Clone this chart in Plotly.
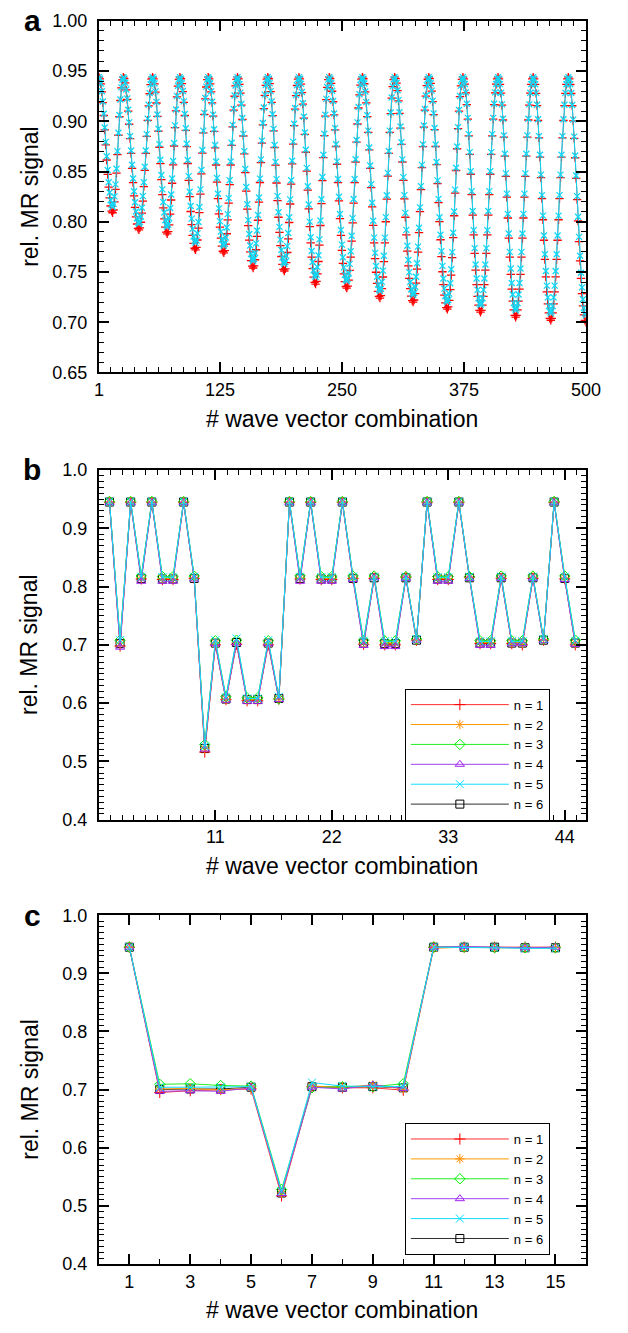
import numpy as np
import plotly.graph_objects as go

W, H = 628, 1333
FONT = "Liberation Sans, Arial, sans-serif"

# ---------------- Panel a (cycle extrema) -------------
a_peak_x = [1, 26, 56, 84, 113, 143, 174, 206, 237, 271, 304, 339, 374, 410, 446, 482]
a_trough_x = [15, 42, 71, 100, 129, 159, 191, 223, 255, 289, 323, 358, 392, 428, 464, 500]
a_peak_y = 0.944
a_trough_n1 = [0.809, 0.792, 0.788, 0.772, 0.769, 0.754, 0.751, 0.738,
               0.734, 0.724, 0.720, 0.713, 0.710, 0.705, 0.702, 0.700]
a_trough_n5 = [0.815, 0.798, 0.795, 0.779, 0.776, 0.761, 0.758, 0.745,
               0.741, 0.731, 0.727, 0.720, 0.717, 0.712, 0.709, 0.707]
a_x = list(range(1, 501))
a_xticks = [1, 125, 250, 375, 500]

# ---------------- Panel b -------------
b_x = list(range(1, 46))
b_n1 = [0.944, 0.698, 0.944, 0.813, 0.944, 0.812, 0.812, 0.944, 0.814, 0.516,
        0.700, 0.606, 0.701, 0.604, 0.604, 0.700, 0.607, 0.944, 0.813, 0.944,
        0.812, 0.812, 0.944, 0.814, 0.701, 0.814, 0.700, 0.700, 0.816, 0.708,
        0.944, 0.812, 0.812, 0.944, 0.816, 0.702, 0.702, 0.814, 0.702, 0.700,
        0.814, 0.708, 0.944, 0.813, 0.700]
b_n2 = [0.945, 0.703, 0.945, 0.815, 0.945, 0.814, 0.814, 0.945, 0.815, 0.522,
        0.703, 0.607, 0.704, 0.606, 0.606, 0.703, 0.608, 0.945, 0.815, 0.945,
        0.814, 0.814, 0.945, 0.815, 0.703, 0.816, 0.703, 0.703, 0.815, 0.709,
        0.945, 0.814, 0.814, 0.945, 0.815, 0.704, 0.704, 0.815, 0.704, 0.703,
        0.816, 0.709, 0.945, 0.815, 0.703]
b_n3 = [0.946, 0.708, 0.946, 0.818, 0.946, 0.817, 0.817, 0.946, 0.818, 0.529,
        0.707, 0.611, 0.708, 0.609, 0.609, 0.707, 0.607, 0.946, 0.818, 0.946,
        0.817, 0.817, 0.946, 0.818, 0.708, 0.818, 0.707, 0.707, 0.817, 0.710,
        0.946, 0.817, 0.817, 0.946, 0.817, 0.707, 0.707, 0.818, 0.707, 0.707,
        0.818, 0.710, 0.946, 0.818, 0.708]
b_n4 = [0.944, 0.696, 0.944, 0.809, 0.944, 0.809, 0.809, 0.944, 0.813, 0.521,
        0.702, 0.605, 0.703, 0.603, 0.603, 0.702, 0.606, 0.944, 0.809, 0.944,
        0.809, 0.809, 0.944, 0.812, 0.699, 0.815, 0.697, 0.697, 0.814, 0.708,
        0.944, 0.809, 0.809, 0.944, 0.814, 0.699, 0.699, 0.814, 0.702, 0.702,
        0.814, 0.707, 0.944, 0.812, 0.701]
b_n5 = [0.946, 0.708, 0.946, 0.817, 0.946, 0.816, 0.816, 0.946, 0.817, 0.526,
        0.708, 0.610, 0.711, 0.608, 0.608, 0.708, 0.611, 0.946, 0.817, 0.946,
        0.816, 0.816, 0.946, 0.817, 0.707, 0.817, 0.706, 0.706, 0.817, 0.710,
        0.946, 0.816, 0.816, 0.946, 0.817, 0.706, 0.706, 0.817, 0.706, 0.706,
        0.817, 0.710, 0.946, 0.817, 0.707]
b_n6 = [0.945, 0.702, 0.945, 0.814, 0.945, 0.813, 0.813, 0.945, 0.814, 0.522,
        0.703, 0.607, 0.704, 0.606, 0.606, 0.703, 0.608, 0.945, 0.814, 0.945,
        0.813, 0.813, 0.945, 0.814, 0.703, 0.815, 0.702, 0.702, 0.815, 0.708,
        0.945, 0.813, 0.813, 0.945, 0.815, 0.703, 0.703, 0.815, 0.703, 0.703,
        0.815, 0.708, 0.945, 0.814, 0.703]
b_xticks = [11, 22, 33, 44]

# ---------------- Panel c -------------
c_x = list(range(1, 16))
c_n1 = [0.945, 0.695, 0.698, 0.700, 0.701, 0.517, 0.705, 0.703, 0.703, 0.699, 0.945, 0.945, 0.945, 0.945, 0.945]
c_n2 = [0.945, 0.701, 0.702, 0.699, 0.703, 0.522, 0.706, 0.704, 0.708, 0.701, 0.943, 0.945, 0.944, 0.944, 0.944]
c_n3 = [0.945, 0.709, 0.710, 0.707, 0.706, 0.528, 0.703, 0.705, 0.705, 0.710, 0.945, 0.945, 0.944, 0.944, 0.944]
c_n4 = [0.945, 0.697, 0.698, 0.697, 0.703, 0.521, 0.704, 0.701, 0.708, 0.702, 0.945, 0.946, 0.945, 0.944, 0.945]
c_n5 = [0.945, 0.704, 0.704, 0.704, 0.705, 0.525, 0.712, 0.706, 0.705, 0.705, 0.945, 0.945, 0.944, 0.943, 0.943]
c_n6 = [0.945, 0.700, 0.701, 0.701, 0.704, 0.522, 0.705, 0.704, 0.705, 0.703, 0.945, 0.945, 0.945, 0.944, 0.944]
c_xticks = [1, 3, 5, 7, 9, 11, 13, 15]

series_names = ["n = 1", "n = 2", "n = 3", "n = 4", "n = 5", "n = 6"]
line_colors = ["#ff3030", "#ff9a00", "#22ee22", "#a040f0", "#10dcff", "#303030"]
marker_colors = ["#ff0000", "#ff9000", "#00ee00", "#a020f0", "#00e0ff", "#000000"]
symbols = ["cross-thin-open", "asterisk-open", "diamond-open", "triangle-up-open",
           "x-thin-open", "square-open"]


def build_cycle_series(px, tx, py, ty):
    """Connect read peak / trough extrema with cosine-shaped arcs."""
    ex, ey = [], []
    for i in range(len(px)):
        ex += [px[i], tx[i]]
        ey += [py, ty[i]]
    out = []
    for x in a_x:
        k = 0
        while k < len(ex) - 2 and x > ex[k + 1]:
            k += 1
        x0, x1, y0, y1 = ex[k], ex[k + 1], ey[k], ey[k + 1]
        t = (x - x0) / (x1 - x0)
        out.append(y1 + (y0 - y1) * (1 + np.cos(np.pi * t)) / 2)
    return out


a_n1 = build_cycle_series(a_peak_x, a_trough_x, a_peak_y, a_trough_n1)
a_n5 = build_cycle_series(a_peak_x, a_trough_x, a_peak_y, a_trough_n5)

fig = go.Figure()

# panel a traces
fig.add_trace(go.Scatter(x=a_x, y=a_n1, mode="lines+markers", xaxis="x", yaxis="y",
                         line=dict(color="#7a7a7a", width=1),
                         marker=dict(symbol="cross-thin-open", size=6, color="#ff0000",
                                     line=dict(color="#ff0000", width=1.3)),
                         showlegend=False, hoverinfo="skip"))
fig.add_trace(go.Scatter(x=a_x, y=a_n5, mode="lines+markers", xaxis="x", yaxis="y",
                         line=dict(color="#10d4f4", width=1),
                         marker=dict(symbol="x-thin-open", size=6, color="#10d8f8",
                                     line=dict(color="#10d8f8", width=1.3)),
                         showlegend=False, hoverinfo="skip"))

b_series = [b_n1, b_n2, b_n3, b_n4, b_n5, b_n6]
c_series = [c_n1, c_n2, c_n3, c_n4, c_n5, c_n6]
order = [5, 0, 1, 2, 3, 4]
for i in order:
    fig.add_trace(go.Scatter(x=b_x, y=b_series[i], mode="lines+markers", xaxis="x2", yaxis="y2",
                             name=series_names[i], legend="legend", legendrank=i + 1,
                             line=dict(color=line_colors[i], width=1),
                             marker=dict(symbol=symbols[i], size=8, color=marker_colors[i],
                                         line=dict(color=marker_colors[i], width=1)),
                             hoverinfo="skip"))
for i in order:
    fig.add_trace(go.Scatter(x=c_x, y=c_series[i], mode="lines+markers", xaxis="x3", yaxis="y3",
                             name=series_names[i], legend="legend2", legendrank=i + 1,
                             line=dict(color=line_colors[i], width=1),
                             marker=dict(symbol=symbols[i], size=8, color=marker_colors[i],
                                         line=dict(color=marker_colors[i], width=1)),
                             hoverinfo="skip"))

xd = [97 / W, 600 / W]
panels = {"a": (11, 368), "b": (467, 822), "c": (919, 1273)}


def ydom(top, bot):
    return [1 - bot / H, 1 - top / H]


def axis(**kw):
    d = dict(showline=True, linecolor="black", linewidth=2, mirror="allticks",
             ticks="inside", ticklen=10, tickwidth=1.5, tickcolor="black",
             showgrid=False, zeroline=False, ticklabelstandoff=6,
             tickfont=dict(size=18, color="black", family=FONT))
    d.update(kw)
    return d


def minor(dtick, tick0=0):
    return dict(ticks="inside", ticklen=5, tickwidth=1.2, tickcolor="black",
                tickmode="linear", tick0=tick0, dtick=dtick, showgrid=False)


leg_common = dict(xanchor="left", yanchor="top", bordercolor="black", borderwidth=1,
                  bgcolor="white", font=dict(size=13, family=FONT, color="black"),
                  itemwidth=98, tracegroupgap=0)

fig.update_layout(
    width=W, height=H, autosize=False,
    margin=dict(l=0, r=0, t=0, b=0),
    paper_bgcolor="white", plot_bgcolor="white",
    font=dict(family=FONT, color="black"),
    xaxis=axis(domain=xd, anchor="y", range=[1, 500], tickmode="array",
               tickvals=a_xticks, ticktext=[str(v) for v in a_xticks], minor=minor(12.5),
               ticklabelstandoff=0),
    yaxis=axis(domain=ydom(*panels["a"]), anchor="x", range=[0.65, 1.0],
               tickmode="linear", tick0=0.65, dtick=0.05, tickformat=".2f", minor=minor(0.01)),
    xaxis2=axis(domain=xd, anchor="y2", range=[0, 46], tickmode="array",
                tickvals=b_xticks, minor=minor(1.1), ticklabelstandoff=0),
    yaxis2=axis(domain=ydom(*panels["b"]), anchor="x2", range=[0.4, 1.0],
                tickmode="linear", tick0=0.4, dtick=0.1, tickformat=".1f", minor=minor(0.01)),
    xaxis3=axis(domain=xd, anchor="y3", range=[0, 16], tickmode="array",
                tickvals=c_xticks, minor=minor(1), ticklabelstandoff=0),
    yaxis3=axis(domain=ydom(*panels["c"]), anchor="x3", range=[0.4, 1.0],
                tickmode="linear", tick0=0.4, dtick=0.1, tickformat=".1f", minor=minor(0.01)),
    legend=dict(x=413 / W, y=1 - 689 / H, **leg_common),
    legend2=dict(x=413 / W, y=1 - 1130 / H, **leg_common),
)

ann = []
for letter, (top, bot) in panels.items():
    ann.append(dict(text="<b>%s</b>" % letter, x=28 / W, y=1 - (top + 0) / H,
                    xref="paper", yref="paper", showarrow=False, xanchor="center",
                    yanchor="middle", font=dict(size=30, family=FONT, color="black")))
    ann.append(dict(text="rel. MR signal", x=25 / W, y=1 - (top + bot) / 2 / H,
                    xref="paper", yref="paper", showarrow=False, textangle=-90,
                    xanchor="center", yanchor="middle",
                    font=dict(size=23, family=FONT, color="black")))
    ann.append(dict(text="# wave vector combination", x=348.5 / W, y=1 - (bot + 47) / H,
                    xref="paper", yref="paper", showarrow=False,
                    xanchor="center", yanchor="middle",
                    font=dict(size=23, family=FONT, color="black")))
fig.update_layout(annotations=ann)

fig.write_html("out.html")
